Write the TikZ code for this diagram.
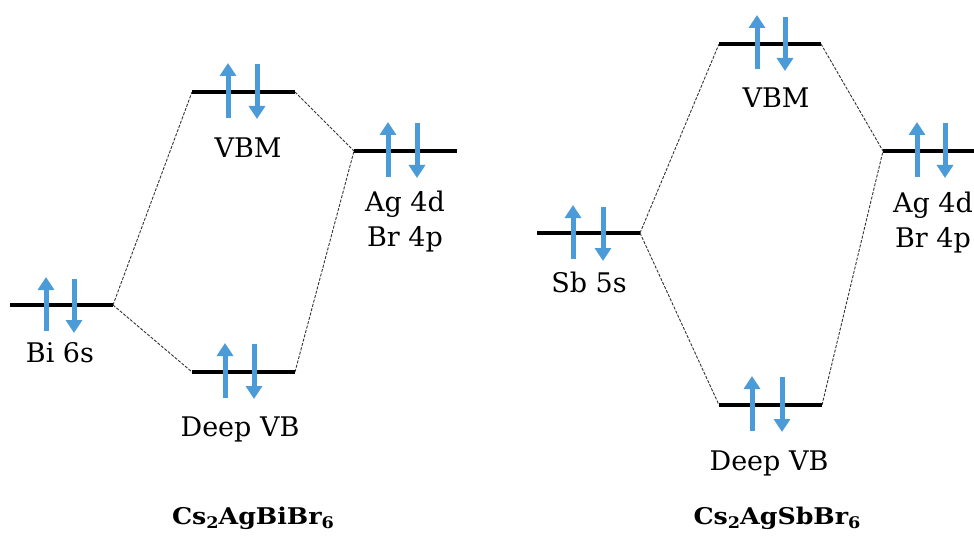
\documentclass[tikz,border=0pt]{standalone}
\usepackage{fontspec}
\setmainfont{DejaVu Serif}
\usetikzlibrary{arrows.meta}
\definecolor{spinblue}{RGB}{74,155,216}
\newcommand{\sbsc}[1]{\raisebox{-0.35ex}{\fontsize{16}{16}\selectfont #1}}
\tikzset{
  levelline/.style={line width=3.8pt, black},
  spin/.style={line width=5pt, spinblue, -{Triangle[length=13pt,width=16pt]}},
  conn/.style={line width=0.9pt, gray!40!black, dash pattern=on 3pt off 1.5pt},
  lbl/.style={font=\fontsize{27}{35}\selectfont, anchor=base, inner sep=0pt, align=center},
  ttl/.style={font=\bfseries\fontsize{23}{27}\selectfont, anchor=base, inner sep=0pt},
}
\begin{document}
\begin{tikzpicture}[x=1pt,y=-1pt]
\useasboundingbox (0,0) rectangle (974,540);
% ---------- left diagram ----------
\coordinate (biA) at (10,305);  \coordinate (biB) at (113,305);
\coordinate (vbA) at (192,92);  \coordinate (vbB) at (295,92);
\coordinate (agA) at (354,151); \coordinate (agB) at (457,151);
\coordinate (dvA) at (192,372); \coordinate (dvB) at (295,372);
\draw[conn] (biB) -- (vbA);
\draw[conn] (biB) -- (dvA);
\draw[conn] (vbB) -- (agA);
\draw[conn] (dvB) -- (agA);
\draw[levelline] (biA) -- (biB);
\draw[levelline] (vbA) -- (vbB);
\draw[levelline] (agA) -- (agB);
\draw[levelline] (dvA) -- (dvB);
\draw[spin] (46,331) -- (46,277);  \draw[spin] (74,279) -- (74,333);
\draw[spin] (228,118) -- (228,63); \draw[spin] (257,64) -- (257,119);
\draw[spin] (388,177) -- (388,122); \draw[spin] (417,123) -- (417,178);
\draw[spin] (225,398) -- (225,343); \draw[spin] (254,344) -- (254,399);
\node[lbl] (bilbl) at (60,362) {Bi 6s};
\node[lbl] (vblbl) at (248,158) {VBM};
\node[lbl] (aglbl) at (405,246) {Ag 4d\\Br 4p};
\node[lbl] (dvlbl) at (240,436) {Deep VB};
\node[ttl] (t1) at (253,524) {\scalebox{1.1}[1]{Cs\sbsc{2}AgBiBr\sbsc{6}}};
% ---------- right diagram ----------
\coordinate (sbA) at (537,233); \coordinate (sbB) at (640,233);
\coordinate (wvA) at (719,44);  \coordinate (wvB) at (821,44);
\coordinate (gaA) at (883,151); \coordinate (gaB) at (980,151);
\coordinate (wdA) at (719,405); \coordinate (wdB) at (822,405);
\draw[conn] (sbB) -- (wvA);
\draw[conn] (sbB) -- (wdA);
\draw[conn] (wvB) -- (gaA);
\draw[conn] (wdB) -- (gaA);
\draw[levelline] (sbA) -- (sbB);
\draw[levelline] (wvA) -- (wvB);
\draw[levelline] (gaA) -- (gaB);
\draw[levelline] (wdA) -- (wdB);
\draw[spin] (573,259) -- (573,205); \draw[spin] (603,207) -- (603,261);
\draw[spin] (757,69) -- (757,15);   \draw[spin] (785,17) -- (785,71);
\draw[spin] (917,177) -- (917,122); \draw[spin] (945,123) -- (945,178);
\draw[spin] (752,431) -- (752,376); \draw[spin] (782,377) -- (782,432);
\node[lbl] (sblbl) at (589,292) {Sb 5s};
\node[lbl] (wvlbl) at (776,108) {VBM};
\node[lbl] (galbl) at (933,247) {Ag 4d\\Br 4p};
\node[lbl] (wdlbl) at (769,470) {Deep VB};
\node[ttl] (t2) at (777,524) {\scalebox{1.1}[1]{Cs\sbsc{2}AgSbBr\sbsc{6}}};
\end{tikzpicture}
\end{document}
